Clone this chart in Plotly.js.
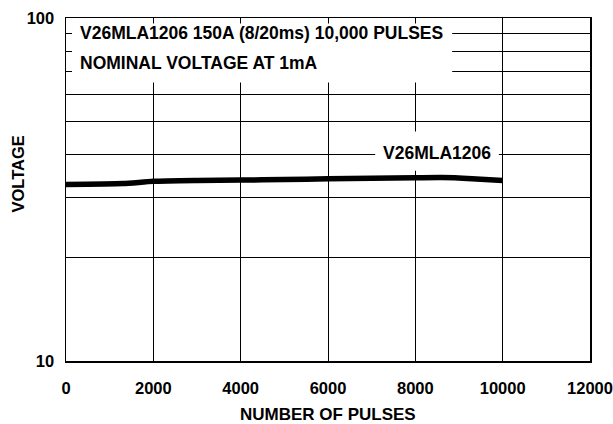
<!DOCTYPE html>
<html>
<head>
<meta charset="utf-8">
<script src="https://cdn.plot.ly/plotly-3.0.1.min.js"></script>
<style>
  html, body { margin: 0; padding: 0; background: #fff; }
  #chart { width: 613px; height: 424px; }
</style>
</head>
<body>
<div id="chart"></div>
<script>
// Data
const pulses  = [0, 1300, 2000, 3000, 4000, 5000, 6000, 7000, 8000, 8600, 9300, 10000];
const voltage = [32.7, 32.9, 33.4, 33.6, 33.7, 33.8, 34.0, 34.1, 34.2, 34.25, 34.0, 33.6];

const xTickVals = [0, 2000, 4000, 6000, 8000, 10000, 12000];
const xTickText = ['0', '2000', '4000', '6000', '8000', '10000', '12000'];
const yTickVals = [10, 20, 30, 40, 50, 60, 70, 80, 90, 100];
const yTickText = ['10', '', '', '', '', '', '', '', '', '100'];

const seriesName = 'V26MLA1206';
const titleLine1 = 'V26MLA1206 150A (8/20ms) 10,000 PULSES';
const titleLine2 = 'NOMINAL VOLTAGE AT 1mA';
const xTitle = 'NUMBER OF PULSES';
const yTitle = 'VOLTAGE';

const font = 'Liberation Sans, Arial, Helvetica, sans-serif';

const trace = {
  x: pulses, y: voltage, type: 'scatter', mode: 'lines',
  name: seriesName,
  line: { color: '#000', width: 5.5, shape: 'spline', smoothing: 0.6 },
  hoverinfo: 'skip'
};

const layout = {
  width: 613, height: 424,
  margin: { l: 66, r: 23, t: 17.5, b: 63.3, pad: 0 },
  paper_bgcolor: '#fff', plot_bgcolor: '#fff',
  showlegend: false,
  font: { family: font, size: 16.5, color: '#000' },
  xaxis: {
    range: [0, 12000], tickmode: 'array', tickvals: xTickVals, ticktext: xTickText,
    showgrid: true, gridcolor: '#000', gridwidth: 1,
    showline: true, linecolor: '#000', linewidth: 1.5, mirror: true,
    zeroline: false, ticks: '', ticklabelstandoff: 12,
    tickfont: { family: font, size: 16.5, color: '#000', weight: 'bold' }
  },
  yaxis: {
    type: 'log', range: [1, 2], tickmode: 'array', tickvals: yTickVals, ticktext: yTickText,
    showgrid: true, gridcolor: '#000', gridwidth: 1,
    showline: true, linecolor: '#000', linewidth: 1.5, mirror: true,
    zeroline: false, ticks: '', ticklabelstandoff: 7,
    tickfont: { family: font, size: 16.5, color: '#000', weight: 'bold' }
  },
  shapes: [
    { type: 'rect', xref: 'paper', yref: 'paper', x0: 0.0115, x1: 0.737, y0: 0.812, y1: 0.984,
      fillcolor: '#fff', line: { width: 0 }, layer: 'above' },
    { type: 'rect', xref: 'paper', yref: 'paper', x0: 0.590, x1: 0.826, y0: 0.555, y1: 0.669,
      fillcolor: '#fff', line: { width: 0 }, layer: 'above' }
  ],
  annotations: [
    { xref: 'paper', yref: 'paper', x: 0.0229, y: 0.955, xanchor: 'left', yanchor: 'middle',
      text: '<b>' + titleLine1 + '</b>', showarrow: false, font: { family: font, size: 17.5, color: '#000' } },
    { xref: 'paper', yref: 'paper', x: 0.0229, y: 0.868, xanchor: 'left', yanchor: 'middle',
      text: '<b>' + titleLine2 + '</b>', showarrow: false, font: { family: font, size: 17.5, color: '#000' } },
    { xref: 'paper', yref: 'paper', x: 0.708, y: 0.605, xanchor: 'center', yanchor: 'middle',
      text: '<b>' + seriesName + '</b>', showarrow: false, font: { family: font, size: 17.5, color: '#000' } },
    { xref: 'paper', yref: 'paper', x: 0.5, y: -0.157, xanchor: 'center', yanchor: 'middle',
      text: '<b>' + xTitle + '</b>', showarrow: false, font: { family: font, size: 17, color: '#000' } },
    { xref: 'paper', yref: 'paper', x: -0.092, y: 0.546, xanchor: 'center', yanchor: 'middle', textangle: -90,
      text: '<b>' + yTitle + '</b>', showarrow: false, font: { family: font, size: 16.5, color: '#000' } }
  ]
};

Plotly.newPlot('chart', [trace], layout, { displayModeBar: false, staticPlot: true });
</script>
</body>
</html>
